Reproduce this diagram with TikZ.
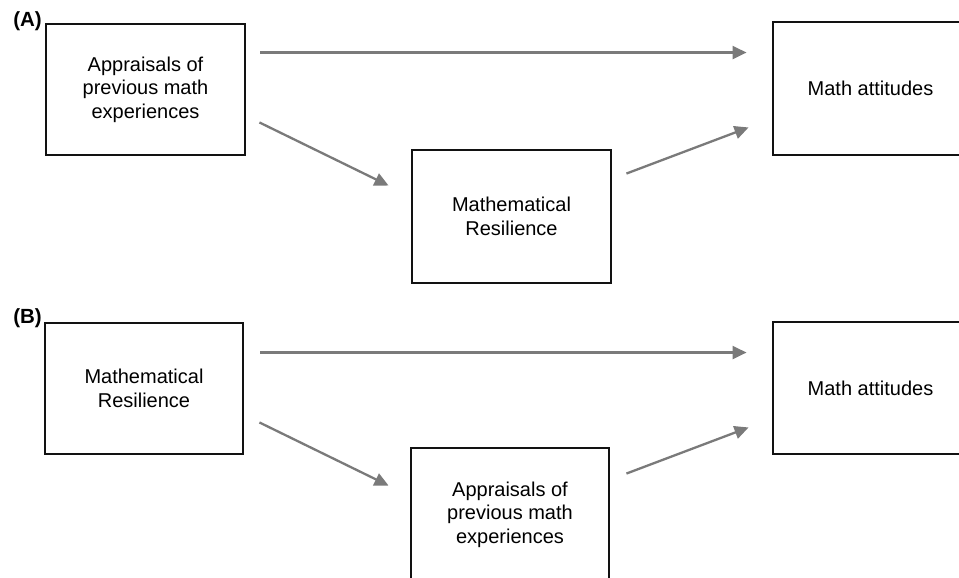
\documentclass[tikz,border=0pt]{standalone}
\usepackage{fontspec}
\setmainfont{Liberation Sans}
\usetikzlibrary{arrows.meta,calc}
\tikzset{
  box/.style={draw=black!93, line width=2.9pt, rectangle, inner sep=0pt, align=center,
    font=\fontsize{20}{23.5}\selectfont},
  arr/.style={draw=black!52, line width=2.3pt, -{Triangle[length=14pt,width=13pt]}},
  panel/.style={font=\fontsize{20.5}{24}\selectfont\bfseries, inner sep=0pt}
}
\begin{document}
\begin{tikzpicture}[x=1pt,y=-1pt]
\clip (0,0) rectangle (959,578);
\fill[white] (0,0) rectangle (959,578);
% Panel A
\node[panel] (la) at (27.5,21) {(A)};
\node[box, minimum width=199pt, minimum height=131pt] (a1) at (145.5,89.5) {Appraisals of\\previous math\\experiences};
\node[box, minimum width=199pt, minimum height=133pt] (a2) at (511.5,216.5) {Mathematical\\Resilience};
\node[box, minimum width=195pt, minimum height=133pt] (a3) at (870.5,88.5) {Math attitudes};
\draw[arr] ($(a1.north east)+(14,30)$) -- ($(a3.north west)+(-25,32)$);
\draw[arr] ($(a1.south east)+(13,-34)$) -- ($(a2.north west)+(-22,37)$);
\draw[arr] ($(a2.north east)+(14,25)$) -- ($(a3.south west)+(-23,-29)$);
% Panel B
\node[panel] (lb) at (27.5,318) {(B)};
\node[box, minimum width=198pt, minimum height=131pt] (b1) at (144,388.5) {Mathematical\\Resilience};
\node[box, minimum width=198pt, minimum height=133pt] (b2) at (510,514.5) {Appraisals of\\previous math\\experiences};
\node[box, minimum width=195pt, minimum height=132pt] (b3) at (870.5,388) {Math attitudes};
\draw[arr] ($(b1.north east)+(16,31)$) -- ($(b3.north west)+(-25,32)$);
\draw[arr] ($(b1.south east)+(15,-33)$) -- ($(b2.north west)+(-21,39)$);
\draw[arr] ($(b2.north east)+(16,27)$) -- ($(b3.south west)+(-23,-28)$);
\end{tikzpicture}
\end{document}
